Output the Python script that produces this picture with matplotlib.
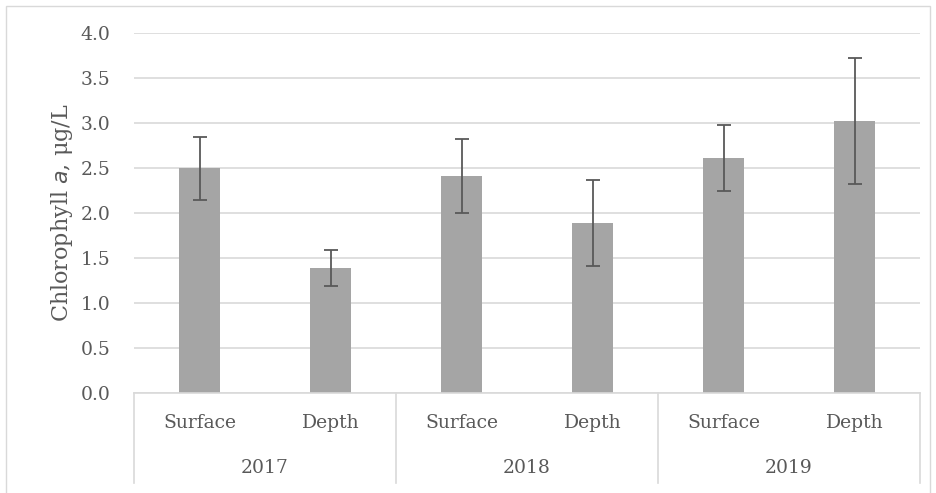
import matplotlib
matplotlib.use("Agg")
import matplotlib.pyplot as plt
from matplotlib.lines import Line2D
from matplotlib.patches import Rectangle

years = ["2017", "2018", "2019"]
depths = ["Surface", "Depth"]
values = [2.50, 1.39, 2.41, 1.89, 2.61, 3.02]
errors = [0.35, 0.20, 0.41, 0.48, 0.37, 0.70]
yticks = [0.0, 0.5, 1.0, 1.5, 2.0, 2.5, 3.0, 3.5, 4.0]

W, H = 936, 493
fig = plt.figure(figsize=(W / 100, H / 100), dpi=100)
plt.rcParams['font.family'] = ['DejaVu Serif']
txt = '#595959'
grid = '#D9D9D9'

x0, x1, yb, yt = 134, 920, 393, 33
ax = fig.add_axes([x0 / W, 1 - yb / H, (x1 - x0) / W, (yb - yt) / H])
n = len(values)
xs = list(range(n))
ax.bar(xs, values, width=0.31, color='#A5A5A5', zorder=2)
ax.errorbar(xs, values, yerr=errors, fmt='none', ecolor='#595959', elinewidth=1.3,
            capsize=5, capthick=1.3, zorder=3)
ax.set_xlim(-0.5, n - 0.5)
ax.set_ylim(0, 4.0)
ax.set_yticks(yticks)
ax.set_yticklabels([f"{v:.1f}" for v in yticks], fontsize=13.5, color=txt)
ax.tick_params(axis='y', length=0, pad=17)
ax.set_xticks([])
for s in ['top', 'right', 'left']:
    ax.spines[s].set_visible(False)
ax.spines['bottom'].set_color(grid)
ax.spines['bottom'].set_linewidth(1.2)
ax.yaxis.grid(True, color=grid, linewidth=1.2, zorder=0)
ax.set_axisbelow(True)

ax.set_ylabel(r"Chlorophyll $\mathit{a}$, μg/L", fontsize=16, color=txt, labelpad=4)

# category labels
trans = ax.get_xaxis_transform()
for i in range(n):
    ax.text(xs[i], -(423 - yb) / (yb - yt), depths[i % 2], transform=trans,
            ha='center', va='center', fontsize=13.5, color=txt, clip_on=False)
for j, yr in enumerate(years):
    ax.text(2 * j + 0.5, -(468 - yb) / (yb - yt), yr, transform=trans,
            ha='center', va='center', fontsize=13.5, color=txt, clip_on=False)
for k in range(len(years) + 1):
    xv = 2 * k - 0.5
    ax.add_line(Line2D([xv, xv], [0, -(483 - yb) / (yb - yt)], transform=trans,
                       color=grid, linewidth=1.2, clip_on=False))

# chart border
fig.add_artist(Rectangle((6 / W, -0.01), (930 - 6) / W, 1 - 6 / H + 0.01,
                         transform=fig.transFigure, fill=False, edgecolor=grid, linewidth=1.0))

fig.savefig("out.png", dpi=100)
